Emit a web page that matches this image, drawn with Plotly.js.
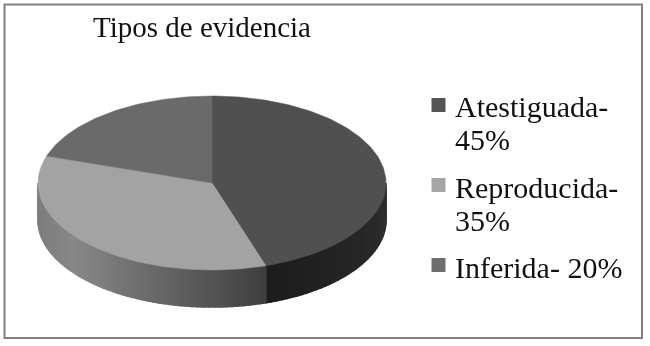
<!DOCTYPE html>
<html><head><meta charset="utf-8">
<script src="https://cdn.plot.ly/plotly-3.0.1.min.js"></script>
<style>html,body{margin:0;padding:0;background:#fff}#c{width:650px;height:346px;filter:blur(0.45px)}</style>
</head><body><div id="c"></div>
<script>
const titleText = "Tipos de evidencia";
const categories = ["Atestiguada-<br>45%", "Reproducida-<br>35%", "Inferida- 20%"];
const values = [45, 35, 20];
const topColors = ["#505050", "#a3a3a3", "#6a6a6a"];
const swatchColors = ["#555555", "#a6a6a6", "#6e6e6e"];

const cx = 212, cy = 183, rx = 174, ry = 87, depth = 37;
const total = values.reduce((a, b) => a + b, 0);
const px = a => cx + rx * Math.sin(a);
const py = a => cy - ry * Math.cos(a);
const traces = [];

function lerp(a, b, t) { return a + (b - a) * t; }
function grey(v) { const n = Math.round(v); return `rgb(${n},${n},${n})`; }

function sideShade(index, a) {
  if (index === 0) {
    const t = (a - Math.PI / 2) / (Math.PI * 0.4);
    return lerp(48, 28, Math.min(1, Math.max(0, t)));
  }
  const t = Math.min(1, Math.max(0, (px(a) - 38) / (267 - 38)));
  return t < 0.15 ? lerp(125, 136, t / 0.15) : lerp(136, 62, (t - 0.15) / 0.85);
}

let start = 0;
values.forEach((v, i) => {
  const a0 = start / total * 2 * Math.PI;
  const a1 = (start + v) / total * 2 * Math.PI;
  start += v;

  const lo = Math.max(a0, Math.PI / 2), hi = Math.min(a1, Math.PI * 1.5);
  if (hi > lo) {
    const n = Math.max(6, Math.round((hi - lo) * 30));
    for (let k = 0; k < n; k++) {
      const b0 = lerp(lo, hi, k / n), b1 = lerp(lo, hi, (k + 1) / n);
      const c = grey(sideShade(i, (b0 + b1) / 2));
      traces.push({
        type: "scatter", mode: "lines", x: [px(b0), px(b1), px(b1), px(b0), px(b0)],
        y: [py(b0), py(b1), py(b1) + depth, py(b0) + depth, py(b0)],
        fill: "toself", fillcolor: c, line: {color: c, width: 1.6},
        hoverinfo: "skip", showlegend: false
      });
    }
  }

  const xs = [cx], ys = [cy];
  const steps = Math.max(12, Math.round(v * 3));
  for (let k = 0; k <= steps; k++) {
    const a = lerp(a0, a1, k / steps);
    xs.push(px(a)); ys.push(py(a));
  }
  xs.push(cx); ys.push(cy);
  traces.push({
    type: "scatter", mode: "lines", x: xs, y: ys, fill: "toself",
    fillcolor: topColors[i], line: {color: topColors[i], width: 0.5},
    name: categories[i].replace("<br>", " "), hoverinfo: "name", showlegend: false
  });
});

const serif = "'Liberation Serif','Times New Roman',serif";
const legendSwatchX = 438.5, legendTextX = 453;
const legendSwatchY = [105, 185, 265];
const legendTextY = [106, 187, 267], legendLineGap = 33;
const annotations = [];
categories.forEach((name, i) => {
  traces.push({
    type: "scatter", mode: "markers", x: [legendSwatchX], y: [legendSwatchY[i]], name,
    marker: {symbol: "square", size: 14, color: swatchColors[i]},
    hoverinfo: "name", showlegend: false
  });
  name.split("<br>").forEach((line, j) => annotations.push({
    xref: "x", yref: "y", x: legendTextX, y: legendTextY[i] + j * legendLineGap,
    xanchor: "left", yanchor: "middle", text: line, showarrow: false,
    font: {family: serif, size: 30, color: "#111"}
  }));
});

const layout = {
  width: 650, height: 346, margin: {l: 0, r: 0, t: 0, b: 0},
  paper_bgcolor: "#fff", plot_bgcolor: "#fff", showlegend: false,
  xaxis: {range: [0, 650], visible: false, fixedrange: true},
  yaxis: {range: [346, 0], visible: false, fixedrange: true},
  title: {text: titleText, font: {family: serif, size: 29, color: "#111"},
          x: 202 / 650, xanchor: "center", y: 1 - 37 / 346, yanchor: "bottom", pad: {b: 0}},
  annotations,
  shapes: [{type: "rect", xref: "paper", yref: "paper", x0: 4.5 / 650, x1: 642 / 650,
            y0: 1 - 338 / 346, y1: 1 - 4.5 / 346, line: {color: "#808080", width: 2}}]
};
Plotly.newPlot("c", traces, layout, {displayModeBar: false, staticPlot: true});
</script></body></html>
